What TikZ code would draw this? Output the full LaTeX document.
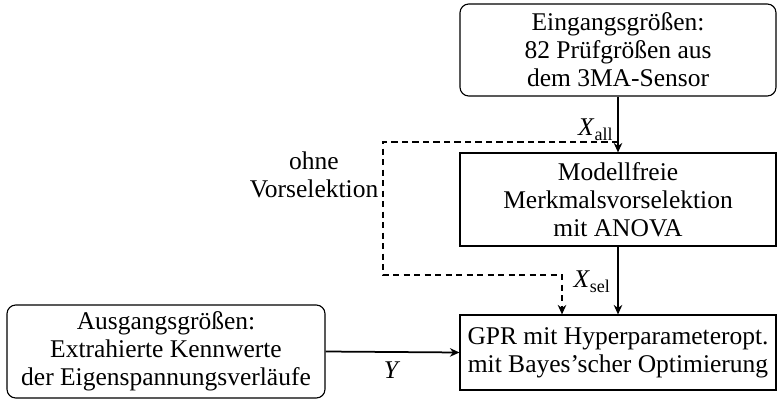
\documentclass[tikz,border=0pt]{standalone}
\usepackage{fontspec}
\setmainfont{Liberation Serif}
\usetikzlibrary{arrows.meta}
\newcommand{\varsub}[2]{\textit{#1}\raisebox{-0.45ex}{\fontsize{7.2pt}{8pt}\selectfont #2}}
\begin{document}
\begin{tikzpicture}[x=0.4pt,y=-0.4pt,
  box/.style={draw,line width=0.45pt,minimum width=316*0.4pt,align=center,inner sep=0pt,font=\fontsize{10.2pt}{11.2pt}\selectfont},
  rbox/.style={box,rounded corners=3.5pt},
  conn/.style={line width=0.7pt,-{Stealth[length=3.8pt,width=3.4pt]}},
  dconn/.style={conn,dash pattern=on 2.5pt off 1.7pt},
  lbl/.style={font=\fontsize{10.2pt}{11.2pt}\selectfont,inner sep=0pt}]
\useasboundingbox (0,0) rectangle (777,399);
\node[rbox,minimum height=92*0.4pt] (in) at (618,50) {Eingangsgrößen:\\82 Prüfgrößen aus\\dem 3MA-Sensor};
\node[box,minimum height=93*0.4pt] (sel) at (618,199.5) {Modellfreie\\Merkmalsvorselektion\\mit ANOVA};
\node[box,minimum height=75*0.4pt] (gpr) at (618,352.5) {GPR mit Hyperparameteropt.\\mit Bayes'scher Optimierung};
\node[rbox,minimum width=318*0.4pt,minimum height=93*0.4pt] (out) at (166,351.5) {Ausgangsgrößen:\\Extrahierte Kennwerte\\der Eigenspannungsverläufe};
\draw[conn] (in.south) -- (sel.north);
\draw[conn] (sel.south) -- (gpr.north);
\draw[conn] (out.east) -- (gpr.west);
\coordinate (d0) at (618,142);
\coordinate (d1) at (383,142);
\coordinate (d2) at (383,275);
\coordinate (d3) at (562,275);
\draw[dconn] (d0) -- (d1) -- (d2) -- (d3) -- (gpr.north -| d3);
\node[lbl,anchor=east] (xall) at (613,130) {\varsub{X}{all}};
\node[lbl,anchor=west] (xsel) at (573,282) {\varsub{X}{sel}};
\node[lbl] (y) at (392,370) {\textit{Y}};
\node[lbl,align=center] (ohne) at (314,175) {ohne\\Vorselektion};
\end{tikzpicture}
\end{document}
